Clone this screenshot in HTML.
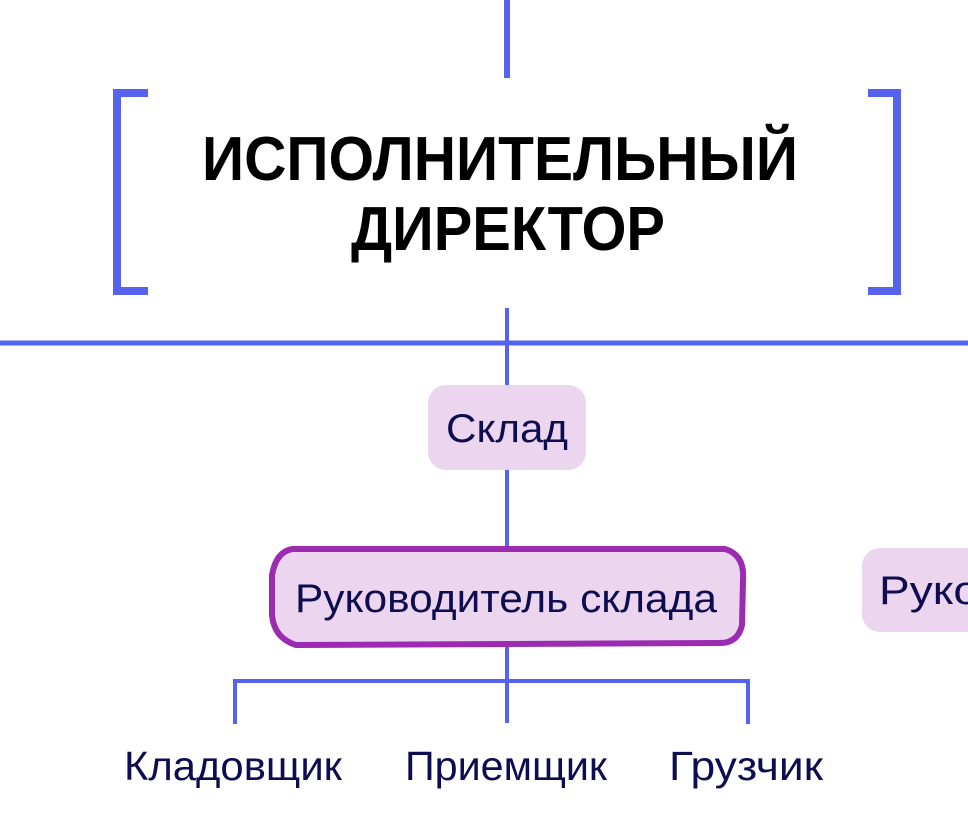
<!DOCTYPE html>
<html><head><meta charset="utf-8"><style>
html,body{margin:0;padding:0;background:#fff;width:968px;height:836px;overflow:hidden}
svg{display:block}
text{font-family:"Liberation Sans","DejaVu Sans",sans-serif}
</style></head><body>
<svg width="968" height="836" viewBox="0 0 968 836" xmlns="http://www.w3.org/2000/svg">
<g stroke="#5563ee" fill="none">
<line x1="507" y1="0" x2="507" y2="78" stroke-width="6"/>
<line x1="0" y1="343" x2="968" y2="343" stroke-width="5"/>
<line x1="507" y1="308" x2="507" y2="386" stroke-width="4"/>
<line x1="507" y1="470" x2="507" y2="550" stroke-width="4"/>
<line x1="507" y1="645" x2="507" y2="723" stroke-width="4"/>
<polyline points="235,724 235,681 748,681 748,724" stroke-width="4"/>
<polyline points="148,93 117,93 117,291 148,291" stroke-width="8"/>
<polyline points="868,93 897,93 897,291 868,291" stroke-width="8"/>
</g>
<text x="500" y="180" text-anchor="middle" font-size="62" font-weight="bold" fill="#000" textLength="596" lengthAdjust="spacingAndGlyphs">ИСПОЛНИТЕЛЬНЫЙ</text>
<text x="508" y="250" text-anchor="middle" font-size="62" font-weight="bold" fill="#000" textLength="314" lengthAdjust="spacingAndGlyphs">ДИРЕКТОР</text>
<rect x="428" y="385" width="158" height="85" rx="18" fill="#ebd5ef"/>
<text x="507" y="442" text-anchor="middle" font-size="40" fill="#0d0d4f" textLength="122" lengthAdjust="spacingAndGlyphs">Склад</text>
<path d="M292,549 L725,549 Q745,555 743,580 L742,625 Q738,643 720,643 L296,645 Q274,638 272,615 L272,575 Q276,552 292,549 Z" fill="#ebd5ef" stroke="#9b2bb0" stroke-width="6" stroke-linejoin="round"/>
<text x="506" y="612" text-anchor="middle" font-size="40" fill="#0d0d4f" textLength="422" lengthAdjust="spacingAndGlyphs">Руководитель склада</text>
<rect x="862" y="548" width="140" height="84" rx="18" fill="#ebd5ef"/>
<text x="879" y="604" font-size="40" fill="#0d0d4f" textLength="100" lengthAdjust="spacingAndGlyphs">Руко</text>
<text x="233" y="780" text-anchor="middle" font-size="41" fill="#0d0d4f" textLength="218" lengthAdjust="spacingAndGlyphs">Кладовщик</text>
<text x="506" y="780" text-anchor="middle" font-size="41" fill="#0d0d4f" textLength="202" lengthAdjust="spacingAndGlyphs">Приемщик</text>
<text x="746" y="780" text-anchor="middle" font-size="41" fill="#0d0d4f" textLength="154" lengthAdjust="spacingAndGlyphs">Грузчик</text>
</svg>
</body></html>
